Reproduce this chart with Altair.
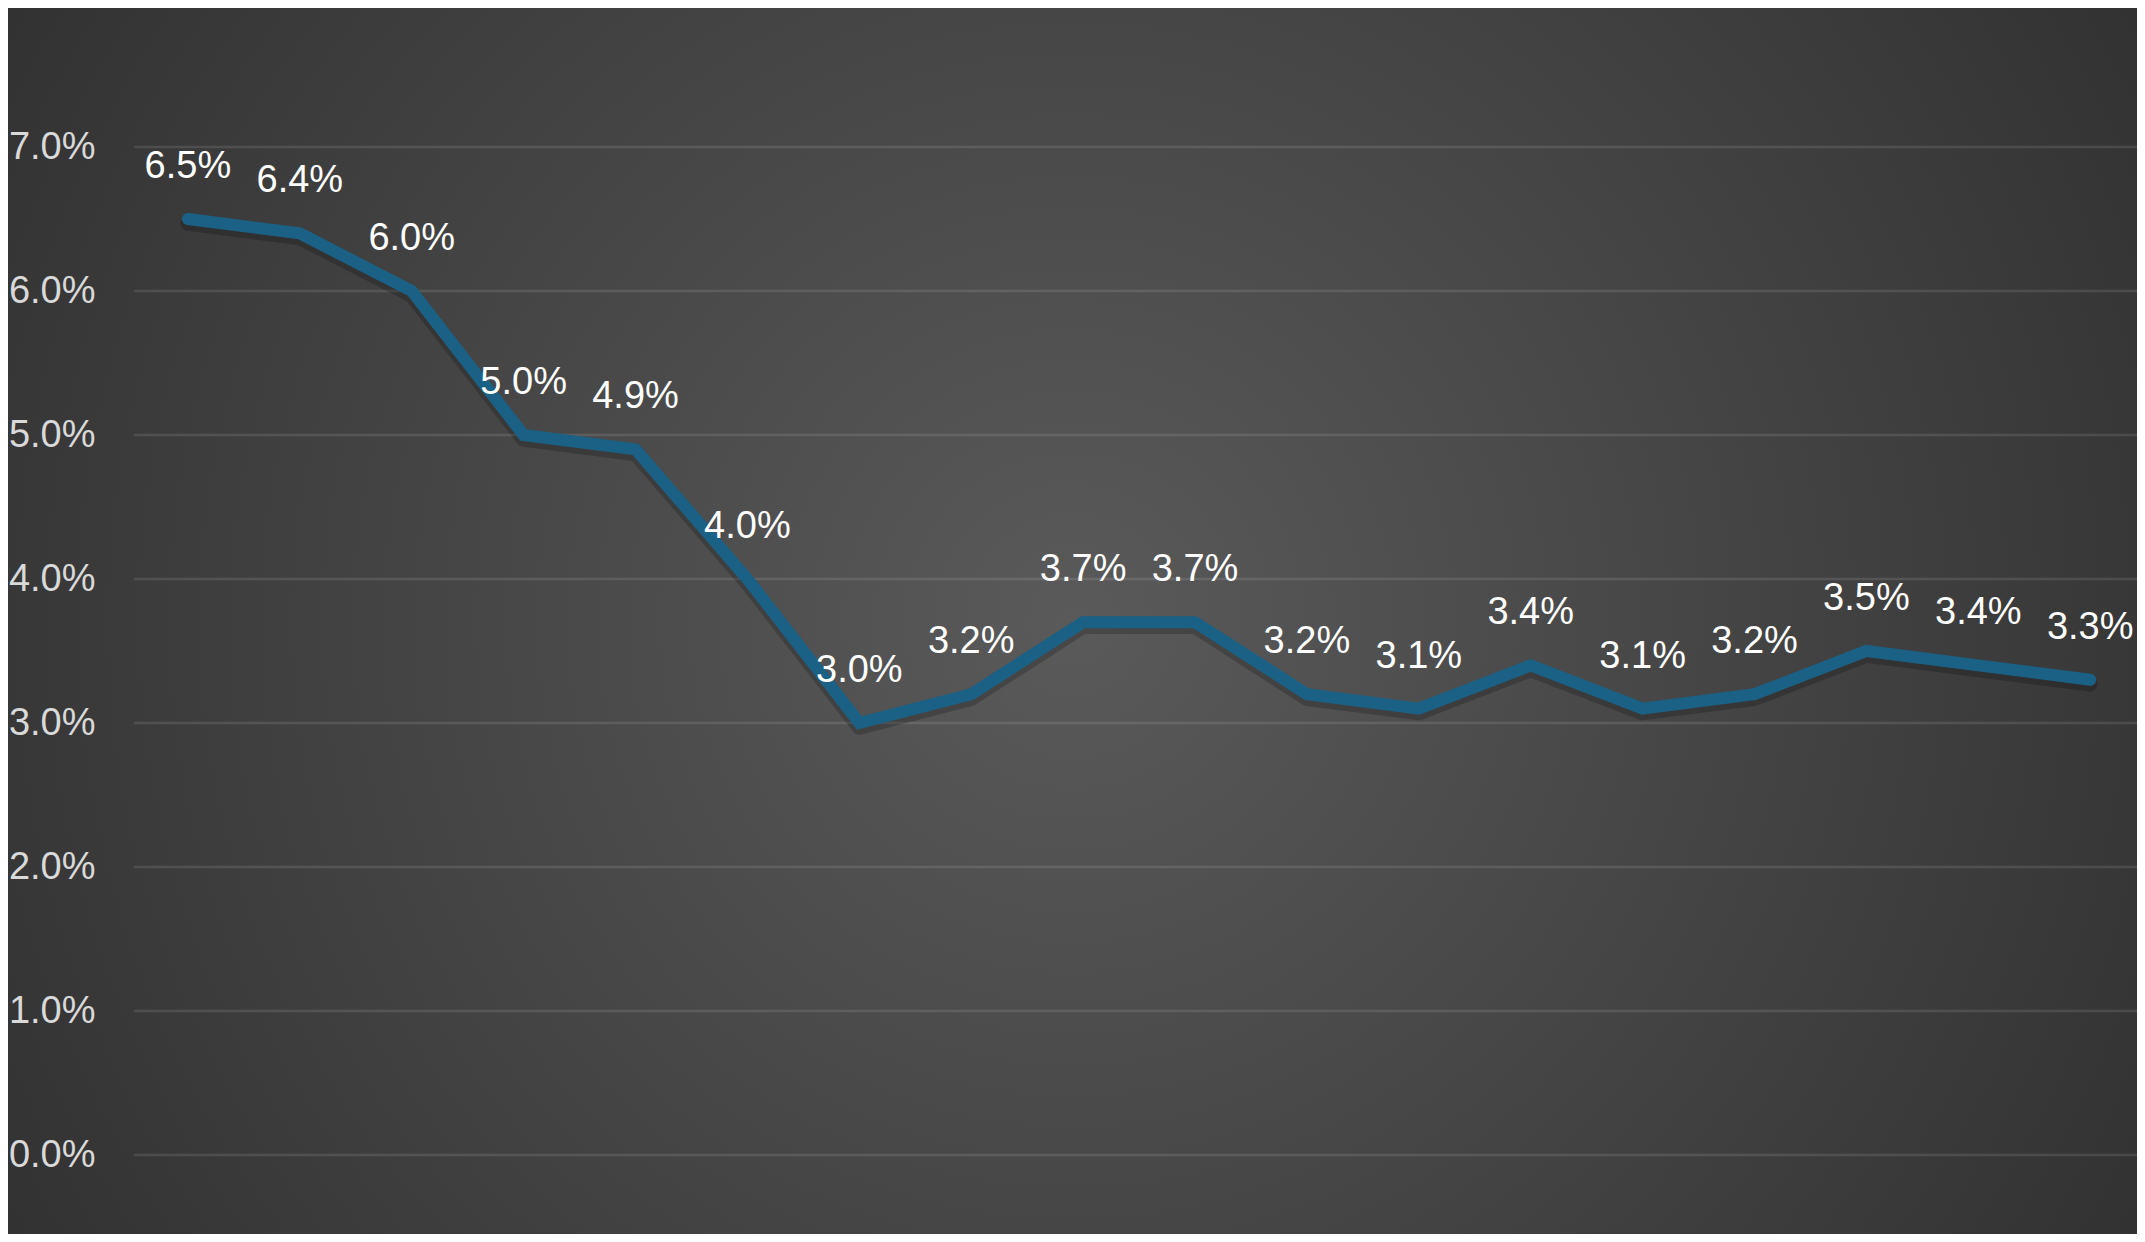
import altair as alt
import pandas as pd

# Values (percent), one per period
rates = [6.5, 6.4, 6.0, 5.0, 4.9, 4.0, 3.0, 3.2, 3.7, 3.7, 3.2, 3.1, 3.4, 3.1, 3.2, 3.5, 3.4, 3.3]
idx = list(range(len(rates)))
y_ticks = [0, 0.01, 0.02, 0.03, 0.04, 0.05, 0.06, 0.07]

df = pd.DataFrame({"i": idx, "rate": [r / 100 for r in rates]})
ticks_df = pd.DataFrame({"t": y_ticks})

W, H = 2003, 1008
PAD = {"left": 126, "top": 139, "right": 0, "bottom": 79}

x_enc = alt.X("i:Q", axis=None,
              scale=alt.Scale(domain=[-0.482, 17.418], nice=False, zero=False))
y_scale = alt.Scale(domain=[0, 0.07], nice=False)

bg = alt.Chart(pd.DataFrame({"a": [0]})).mark_rect(
    color=alt.RadialGradient(
        gradient="radial",
        x1=0.5, y1=0.5, r1=0, x2=0.5, y2=0.5, r2=0.72,
        stops=[alt.GradientStop(offset=0, color="#5a5a5a"),
               alt.GradientStop(offset=1, color="#282828")],
    )
).encode(
    x=alt.value(-PAD["left"]), x2=alt.value(W + PAD["right"]),
    y=alt.value(-PAD["top"]), y2=alt.value(H + PAD["bottom"]),
)

grid = alt.Chart(ticks_df).mark_rule(
    color="#ffffff", opacity=0.11, strokeWidth=2.5
).encode(
    y=alt.Y("t:Q", scale=y_scale, title=None,
            axis=alt.Axis(values=y_ticks, format=".1%", ticks=False, domain=False,
                          grid=False, zindex=1,
                          labelFont="Liberation Sans", labelFontSize=38,
                          labelColor="#d9d9d9", labelPadding=39)),
    x=alt.value(0), x2=alt.value(W),
)

base = alt.Chart(df)

shadow = base.transform_calculate(sy="datum.rate - 0.0003").mark_line(
    color="#000000", opacity=0.2, strokeWidth=15, strokeCap="round", strokeJoin="round"
).encode(x=x_enc, y=alt.Y("sy:Q", scale=y_scale))

line = base.mark_line(
    color="#1a6185", strokeWidth=12, strokeCap="round", strokeJoin="miter"
).encode(x=x_enc, y=alt.Y("rate:Q", scale=y_scale))

labels = base.mark_text(
    font="Liberation Sans", fontSize=38, color="#ffffff", dy=-41,
    baseline="alphabetic", align="center"
).encode(
    x=x_enc, y=alt.Y("rate:Q", scale=y_scale),
    text=alt.Text("rate:Q", format=".1%"),
)

chart = alt.layer(bg, grid, shadow, line, labels).properties(
    width=W, height=H,
    autosize=alt.AutoSizeParams(type="none"),
    padding=PAD,
    background="#2b2b2b",
).configure_view(stroke=None)

chart.save("out.html", embed_options={"renderer": "svg", "actions": False})
